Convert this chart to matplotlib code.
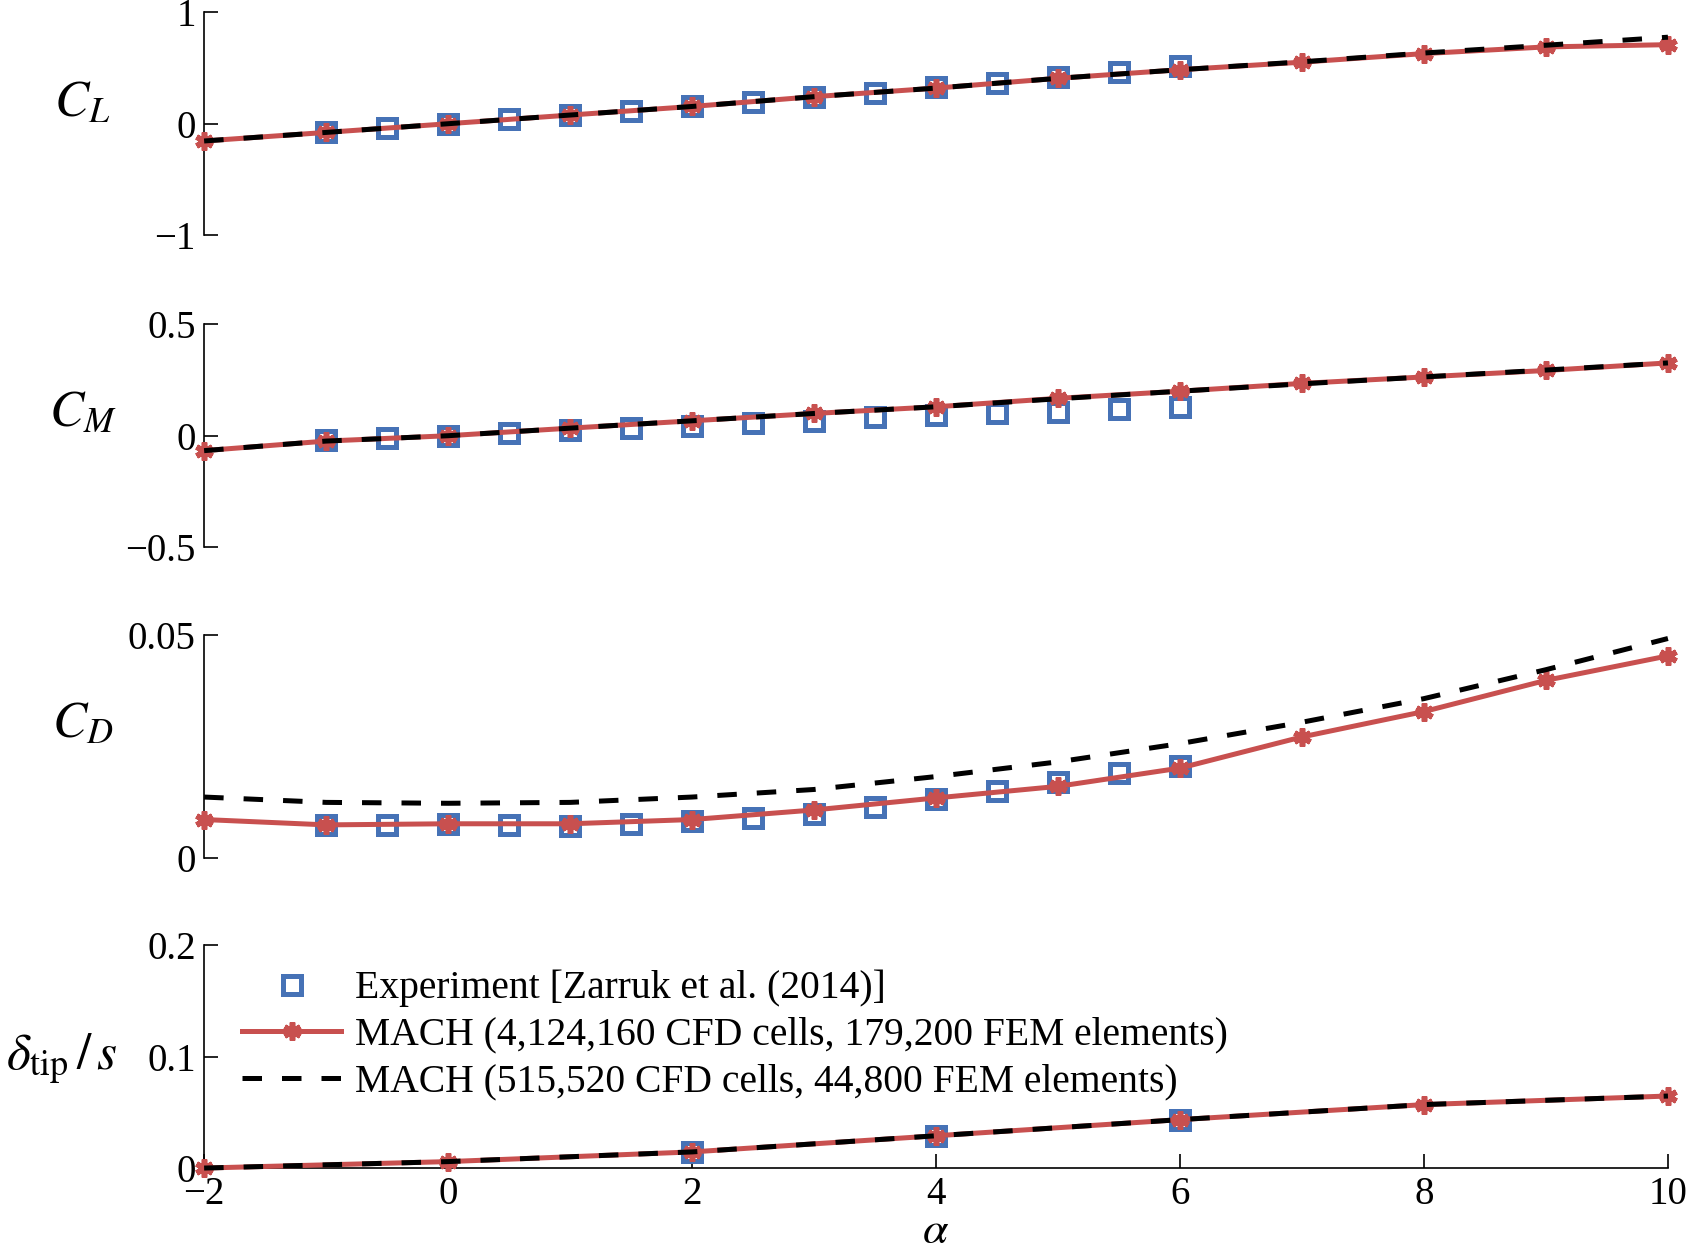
import numpy as np
import matplotlib
matplotlib.use('Agg')
import matplotlib.pyplot as plt

plt.rcParams['font.family'] = ['Liberation Serif', 'DejaVu Serif']
plt.rcParams['mathtext.fontset'] = 'stix'

# angle of attack grids
alpha_mach = [-2, -1, 0, 1, 2, 3, 4, 5, 6, 7, 8, 9, 10]
alpha_exp = [-1, -0.5, 0, 0.5, 1, 1.5, 2, 2.5, 3, 3.5, 4, 4.5, 5, 5.5, 6]
alpha_tip = [-2, 0, 2, 4, 6, 8, 10]
alpha_tip_exp = [2, 4, 6]

# lift coefficient
cl_fine = [-0.155, -0.078, 0.0, 0.078, 0.155, 0.243, 0.32, 0.408, 0.485, 0.553, 0.63, 0.69, 0.71]
cl_coarse = [-0.155, -0.078, 0.0, 0.078, 0.155, 0.243, 0.32, 0.408, 0.485, 0.556, 0.635, 0.705, 0.777]
cl_exp = [-0.078, -0.039, 0.0, 0.039, 0.078, 0.117, 0.155, 0.194, 0.243, 0.28, 0.33, 0.369, 0.417, 0.466, 0.515]

# moment coefficient
cm_fine = [-0.067, -0.024, 0.0, 0.034, 0.067, 0.10, 0.13, 0.168, 0.20, 0.235, 0.264, 0.293, 0.327]
cm_coarse = [-0.067, -0.024, 0.0, 0.034, 0.067, 0.10, 0.13, 0.166, 0.20, 0.233, 0.264, 0.295, 0.327]
cm_exp = [-0.02, -0.01, 0.0, 0.01, 0.024, 0.034, 0.043, 0.058, 0.067, 0.082, 0.091, 0.10, 0.106, 0.12, 0.13]

# drag coefficient
cd_fine = [0.00865, 0.00745, 0.0077, 0.0077, 0.00865, 0.0108, 0.0135, 0.0161, 0.0202, 0.0272, 0.0329, 0.0399, 0.0454]
cd_coarse = [0.0137, 0.0125, 0.0123, 0.0125, 0.0137, 0.0154, 0.0183, 0.0216, 0.0257, 0.0305, 0.0358, 0.0423, 0.0493]
cd_exp = [0.00745, 0.0075, 0.0077, 0.0075, 0.0072, 0.0077, 0.0084, 0.0089, 0.0099, 0.0115,
          0.0132, 0.0151, 0.0171, 0.019, 0.0207]

# tip deflection
tip_fine = [0.0, 0.0058, 0.0145, 0.029, 0.0435, 0.057, 0.0647]
tip_coarse = [0.0, 0.0058, 0.0145, 0.029, 0.0435, 0.057, 0.0647]
tip_exp = [0.0145, 0.029, 0.0435]

ylabels = [r'$C_L$', r'$C_M$', r'$C_D$', r'$\delta_{\mathrm{tip}}\,/\,s$']
yticks = [[-1, 0, 1], [-0.5, 0, 0.5], [0, 0.05], [0, 0.1, 0.2]]
yticklabels = [['\u22121', '0', '1'], ['\u22120.5', '0', '0.5'], ['0', '0.05'], ['0', '0.1', '0.2']]
ylims = [(-1, 1), (-0.5, 0.5), (0, 0.05), (0, 0.2)]
xticks = [-2, 0, 2, 4, 6, 8, 10]
xticklabels = ['\u22122', '0', '2', '4', '6', '8', '10']

legend_labels = ['Experiment [Zarruk et al. (2014)]',
                 'MACH (4,124,160 CFD cells, 179,200 FEM elements)',
                 'MACH (515,520 CFD cells, 44,800 FEM elements)']

RED = '#C8504F'
BLUE = '#4672B6'
FS = 28
LW = 3.6
ast = (6, 2, 0)

fig = plt.figure(figsize=(16.87, 12.51), dpi=100)
left, width = 0.121, 0.8677
bottoms = [0.8121, 0.5627, 0.3141, 0.0663]
height = 0.178

panels = [
    (alpha_exp, cl_exp, alpha_mach, cl_fine, alpha_mach, cl_coarse),
    (alpha_exp, cm_exp, alpha_mach, cm_fine, alpha_mach, cm_coarse),
    (alpha_exp, cd_exp, alpha_mach, cd_fine, alpha_mach, cd_coarse),
    (alpha_tip_exp, tip_exp, alpha_tip, tip_fine, alpha_tip, tip_coarse),
]
label_y = [0.59, 0.60, 0.60, 0.49]
label_x = [-0.083, -0.083, -0.083, -0.097]

for i, (xe, ye, xf, yf, xc, yc) in enumerate(panels):
    ax = fig.add_axes([left, bottoms[i], width, height])
    h_exp, = ax.plot(xe, ye, linestyle='none', marker='s', ms=12.5, mew=3.6,
                     mec=BLUE, mfc='none', zorder=2, clip_on=False)
    h_fine, = ax.plot(xf, yf, '-', color=RED, lw=LW, marker=ast, ms=13, mew=4,
                      mec=RED, zorder=3, clip_on=False)
    h_coarse, = ax.plot(xc, yc, '--', color='black', lw=LW, dashes=(3.9, 4.0),
                        zorder=4, clip_on=False)
    ax.set_xlim(-2, 10)
    ax.set_ylim(*ylims[i])
    ax.set_yticks(yticks[i])
    ax.set_yticklabels(yticklabels[i], fontsize=FS)
    ax.tick_params(axis='y', direction='in', length=10, width=1.2, pad=6)
    for s in ['top', 'right']:
        ax.spines[s].set_visible(False)
    ax.spines['left'].set_linewidth(1.2)
    ax.set_ylabel(ylabels[i], fontsize=37, rotation=0, ha='center', va='center')
    ax.yaxis.set_label_coords(label_x[i], label_y[i])
    if i < 3:
        ax.spines['bottom'].set_visible(False)
        ax.set_xticks([])
    else:
        ax.spines['bottom'].set_linewidth(1.2)
        ax.set_xticks(xticks)
        ax.set_xticklabels(xticklabels, fontsize=FS)
        ax.tick_params(axis='x', direction='in', length=10, width=1.2, pad=6)
        ax.set_xlabel(r'$\alpha$', fontsize=33, labelpad=-2)
        ax.legend([h_exp, h_fine, h_coarse], legend_labels, loc='upper left',
                  bbox_to_anchor=(0.026, 0.89), frameon=False, fontsize=28.5,
                  borderpad=0, borderaxespad=0, handlelength=2.5,
                  handletextpad=0.35, labelspacing=0.24)

fig.savefig('out.png', dpi=100)
